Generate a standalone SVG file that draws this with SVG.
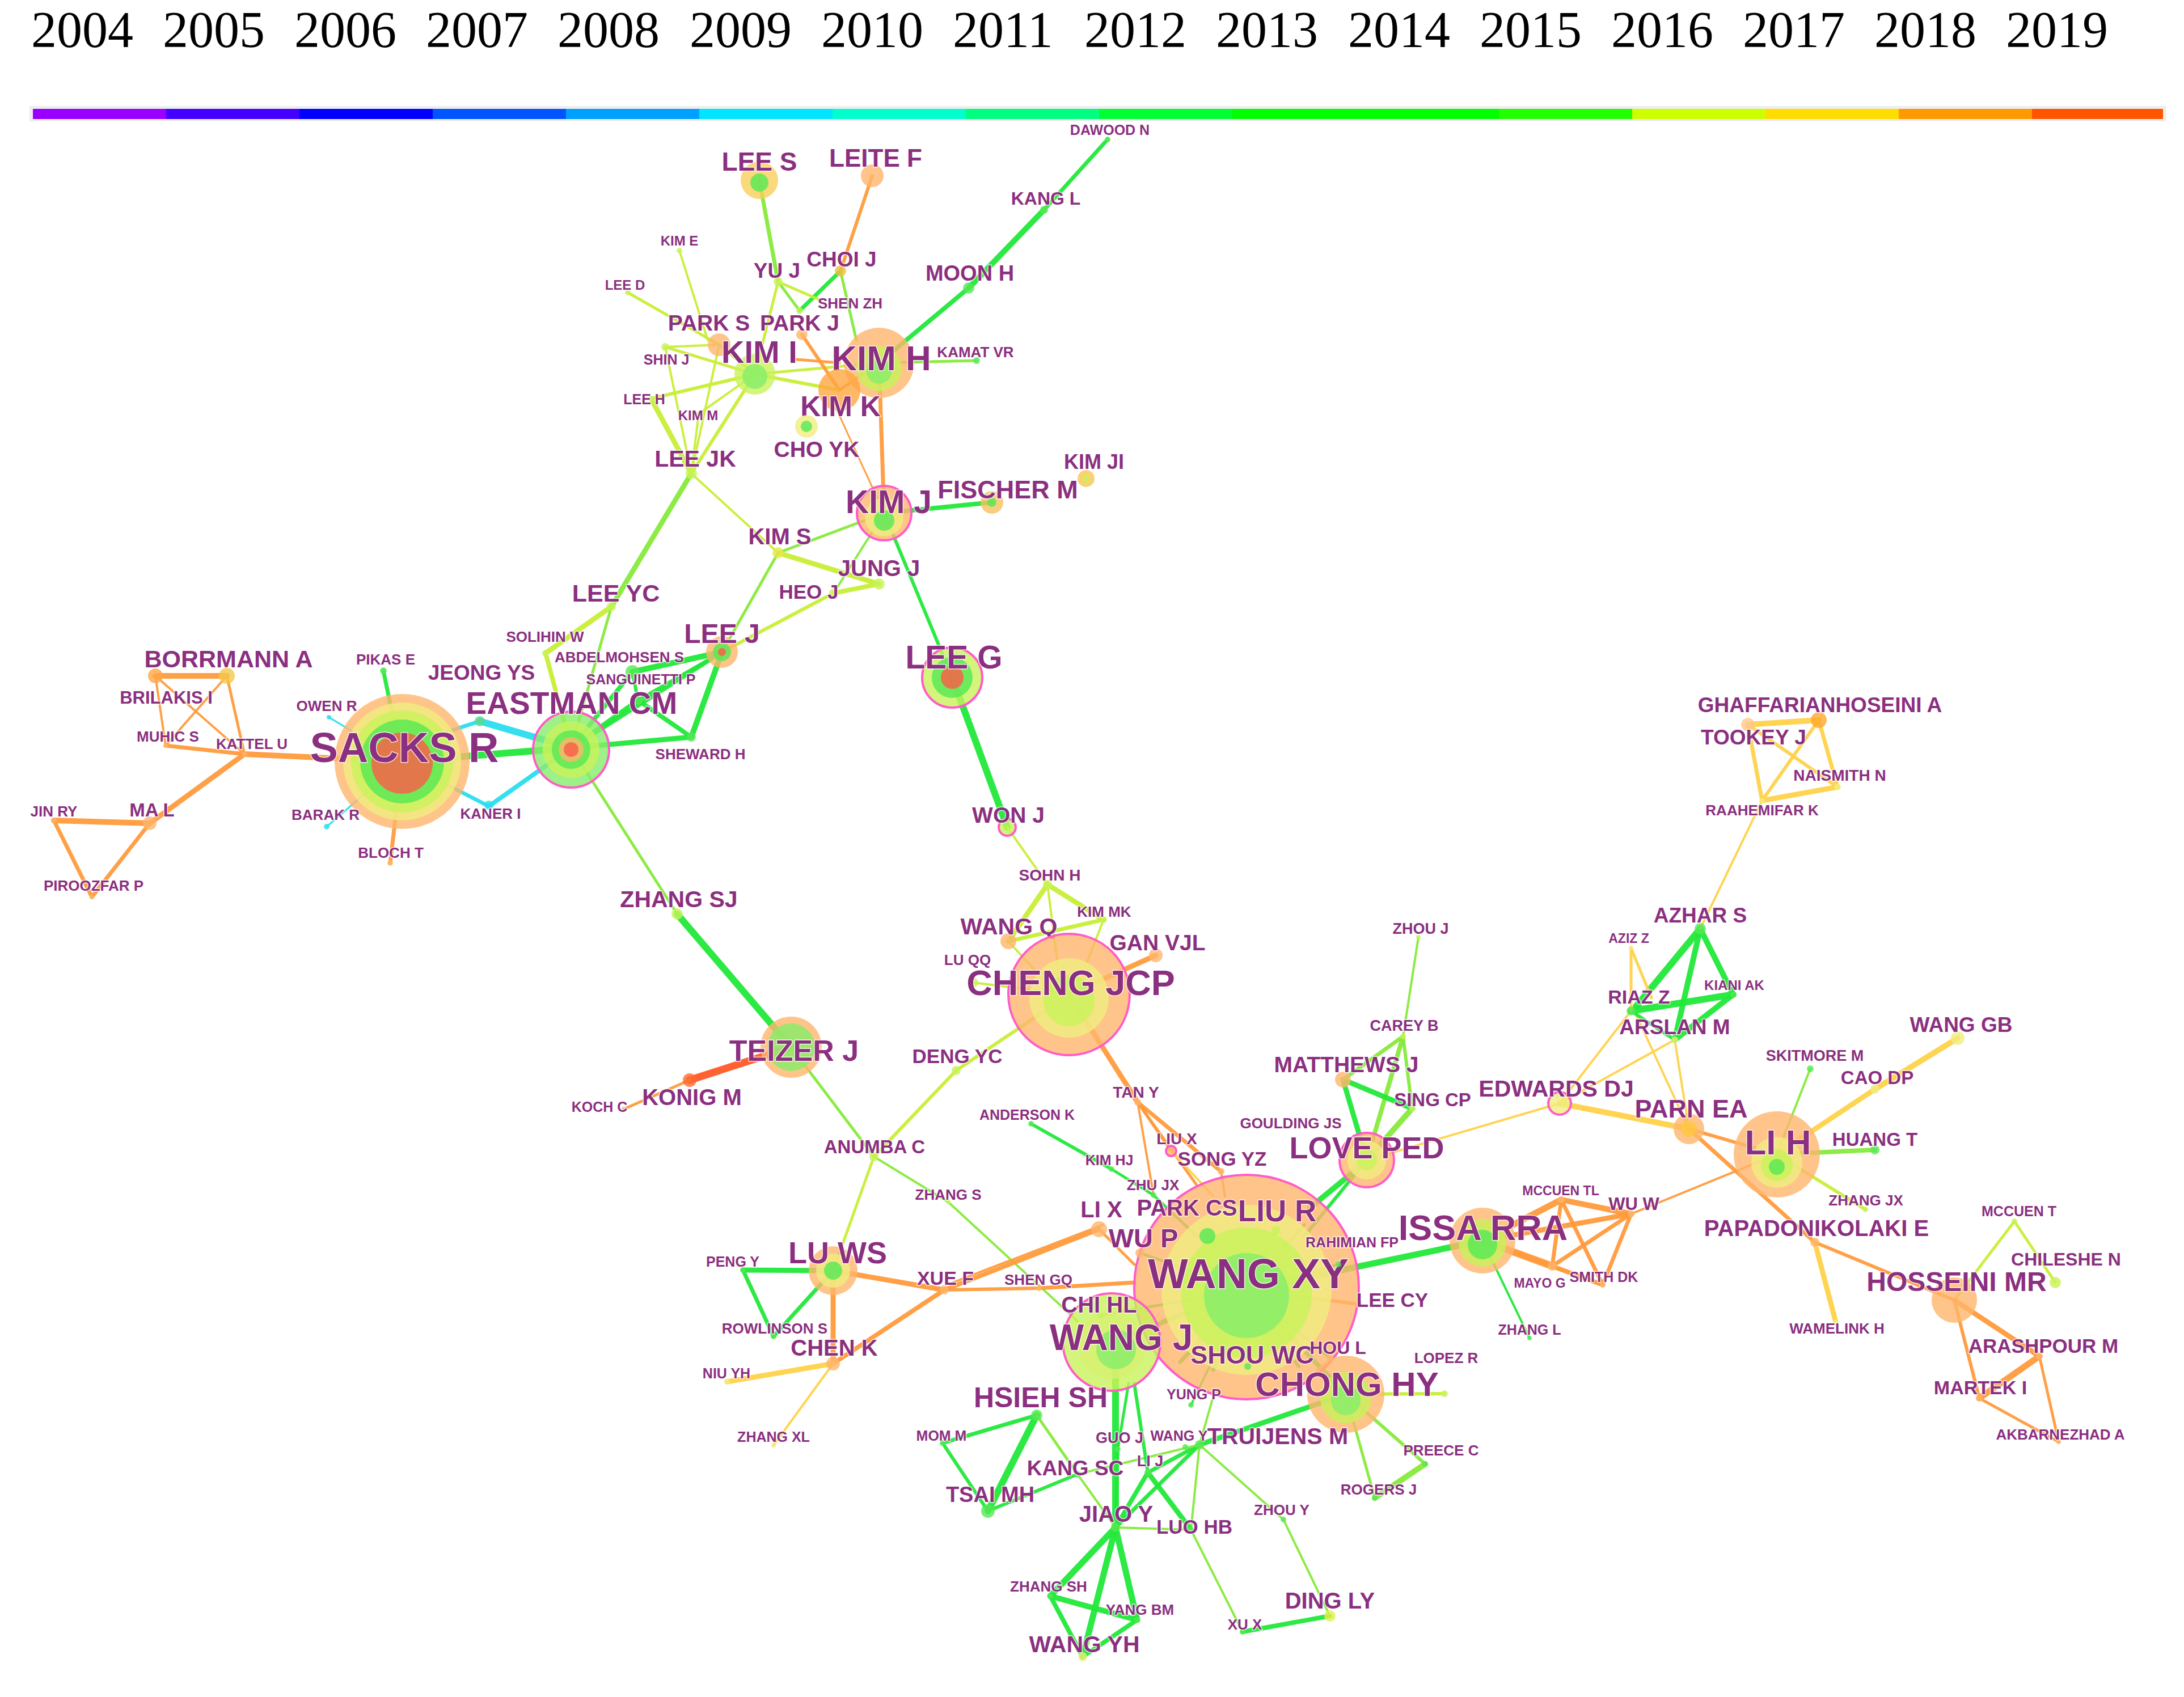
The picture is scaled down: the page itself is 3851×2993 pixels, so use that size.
<svg xmlns="http://www.w3.org/2000/svg" width="3851" height="2993" viewBox="0 0 3851 2993">
<style>
.yr{font-family:"Liberation Serif","Times New Roman",serif;font-size:90px;fill:#000}
.l{font-family:"Liberation Sans",Arial,sans-serif;font-weight:bold;fill:#8B2F80;text-anchor:middle;stroke:#FFFFFF;stroke-width:3;stroke-opacity:0.75;stroke-linejoin:round;paint-order:stroke}
.e{stroke-linecap:round;fill:none;stroke-opacity:0.95}
.cy{stroke:#2ADDEE}.g{stroke:#22E83A}.lg{stroke:#86EA3A}.yg{stroke:#C8EE36}.y{stroke:#FFD24A}.o{stroke:#FF9B3D}.r{stroke:#FF5A25}
.nd circle{fill-opacity:0.8}
.po{fill:#FFB56B}.py{fill:#F0EE80}.pyg{fill:#C8F25A}.pg{fill:#55E855}.pgl{fill:#86EE6A}.pr{fill:#FF5A48}.pc{fill:#2ADDEE}
.pk{fill:none;stroke:#FF5CC8;stroke-width:4}
</style>
<rect x="0" y="0" width="3851" height="2993" fill="#FFFFFF"/>
<g id="timeline">
<rect x="52" y="187" width="3768" height="27" fill="#EEEEEE"/>
<rect x="58" y="192" width="235" height="18" fill="#9900FF"/>
<rect x="293" y="192" width="235" height="18" fill="#4400FF"/>
<rect x="528" y="192" width="235" height="18" fill="#0000FF"/>
<rect x="763" y="192" width="235" height="18" fill="#0055FF"/>
<rect x="998" y="192" width="235" height="18" fill="#00A0FF"/>
<rect x="1233" y="192" width="235" height="18" fill="#00E5FF"/>
<rect x="1468" y="192" width="235" height="18" fill="#00FFCC"/>
<rect x="1703" y="192" width="235" height="18" fill="#00FF80"/>
<rect x="1938" y="192" width="235" height="18" fill="#00FF33"/>
<rect x="2173" y="192" width="235" height="18" fill="#00FF00"/>
<rect x="2408" y="192" width="235" height="18" fill="#00FF00"/>
<rect x="2643" y="192" width="235" height="18" fill="#22FF00"/>
<rect x="2878" y="192" width="235" height="18" fill="#CCFF00"/>
<rect x="3113" y="192" width="235" height="18" fill="#FFDD00"/>
<rect x="3348" y="192" width="235" height="18" fill="#FF9900"/>
<rect x="3583" y="192" width="231" height="18" fill="#FF5500"/>
<text class="yr" x="55" y="83">2004</text>
<text class="yr" x="287" y="83">2005</text>
<text class="yr" x="519" y="83">2006</text>
<text class="yr" x="751" y="83">2007</text>
<text class="yr" x="983" y="83">2008</text>
<text class="yr" x="1216" y="83">2009</text>
<text class="yr" x="1448" y="83">2010</text>
<text class="yr" x="1680" y="83">2011</text>
<text class="yr" x="1912" y="83">2012</text>
<text class="yr" x="2144" y="83">2013</text>
<text class="yr" x="2377" y="83">2014</text>
<text class="yr" x="2609" y="83">2015</text>
<text class="yr" x="2841" y="83">2016</text>
<text class="yr" x="3073" y="83">2017</text>
<text class="yr" x="3305" y="83">2018</text>
<text class="yr" x="3537" y="83">2019</text>
</g>
<g id="connectors">
<line class="e o" x1="274" y1="1192" x2="400" y2="1192" stroke-width="10"/>
<line class="e o" x1="274" y1="1192" x2="292" y2="1315" stroke-width="4"/>
<line class="e o" x1="274" y1="1192" x2="431" y2="1330" stroke-width="4"/>
<line class="e o" x1="400" y1="1192" x2="292" y2="1315" stroke-width="4"/>
<line class="e o" x1="400" y1="1192" x2="431" y2="1330" stroke-width="5"/>
<line class="e o" x1="292" y1="1315" x2="431" y2="1330" stroke-width="7"/>
<line class="e o" x1="431" y1="1330" x2="709" y2="1343" stroke-width="10"/>
<line class="e o" x1="431" y1="1330" x2="264" y2="1452" stroke-width="9"/>
<line class="e o" x1="264" y1="1452" x2="95" y2="1447" stroke-width="10"/>
<line class="e o" x1="95" y1="1447" x2="162" y2="1582" stroke-width="7"/>
<line class="e o" x1="264" y1="1452" x2="162" y2="1582" stroke-width="7"/>
<line class="e g" x1="676" y1="1183" x2="709" y2="1343" stroke-width="7"/>
<line class="e cy" x1="580" y1="1265" x2="709" y2="1343" stroke-width="3"/>
<line class="e cy" x1="576" y1="1458" x2="709" y2="1343" stroke-width="3"/>
<line class="e o" x1="688" y1="1522" x2="709" y2="1343" stroke-width="7"/>
<line class="e g" x1="709" y1="1343" x2="1007" y2="1319" stroke-width="12"/>
<line class="e cy" x1="760" y1="1300" x2="846" y2="1272" stroke-width="7"/>
<line class="e cy" x1="846" y1="1272" x2="1007" y2="1319" stroke-width="12"/>
<line class="e cy" x1="709" y1="1343" x2="862" y2="1422" stroke-width="7"/>
<line class="e cy" x1="862" y1="1422" x2="1007" y2="1319" stroke-width="8"/>
<line class="e g" x1="1007" y1="1319" x2="1115" y2="1185" stroke-width="8"/>
<line class="e g" x1="1007" y1="1319" x2="1125" y2="1235" stroke-width="8"/>
<line class="e g" x1="1007" y1="1319" x2="1219" y2="1300" stroke-width="9"/>
<line class="e g" x1="1007" y1="1319" x2="1273" y2="1150" stroke-width="8"/>
<line class="e g" x1="1273" y1="1150" x2="1219" y2="1300" stroke-width="10"/>
<line class="e g" x1="1273" y1="1150" x2="1115" y2="1185" stroke-width="10"/>
<line class="e g" x1="1115" y1="1185" x2="1125" y2="1235" stroke-width="6"/>
<line class="e g" x1="1125" y1="1235" x2="1219" y2="1300" stroke-width="8"/>
<line class="e g" x1="1273" y1="1150" x2="1125" y2="1235" stroke-width="6"/>
<line class="e yg" x1="962" y1="1152" x2="1007" y2="1319" stroke-width="8"/>
<line class="e yg" x1="962" y1="1152" x2="1078" y2="1070" stroke-width="9"/>
<line class="e lg" x1="1078" y1="1070" x2="1007" y2="1319" stroke-width="5"/>
<line class="e lg" x1="1078" y1="1070" x2="1219" y2="835" stroke-width="9"/>
<line class="e lg" x1="1007" y1="1319" x2="1194" y2="1612" stroke-width="5"/>
<line class="e g" x1="1194" y1="1612" x2="1395" y2="1847" stroke-width="12"/>
<line class="e r" x1="1395" y1="1847" x2="1216" y2="1905" stroke-width="13"/>
<line class="e o" x1="1216" y1="1905" x2="1100" y2="1956" stroke-width="5"/>
<line class="e lg" x1="1395" y1="1847" x2="1541" y2="2040" stroke-width="5"/>
<line class="e yg" x1="1541" y1="2040" x2="1686" y2="1888" stroke-width="6"/>
<line class="e yg" x1="1686" y1="1888" x2="1885" y2="1754" stroke-width="6"/>
<line class="e yg" x1="1541" y1="2040" x2="1469" y2="2241" stroke-width="5"/>
<line class="e lg" x1="1541" y1="2040" x2="1672" y2="2120" stroke-width="4"/>
<line class="e lg" x1="1672" y1="2120" x2="1900" y2="2330" stroke-width="4"/>
<line class="e g" x1="1953" y1="246" x2="1841" y2="370" stroke-width="7"/>
<line class="e g" x1="1841" y1="370" x2="1708" y2="508" stroke-width="10"/>
<line class="e g" x1="1708" y1="508" x2="1550" y2="640" stroke-width="8"/>
<line class="e lg" x1="1339" y1="318" x2="1372" y2="497" stroke-width="7"/>
<line class="e yg" x1="1372" y1="497" x2="1331" y2="660" stroke-width="5"/>
<line class="e lg" x1="1372" y1="497" x2="1410" y2="548" stroke-width="5"/>
<line class="e g" x1="1410" y1="548" x2="1482" y2="478" stroke-width="7"/>
<line class="e yg" x1="1372" y1="497" x2="1448" y2="530" stroke-width="5"/>
<line class="e lg" x1="1482" y1="478" x2="1510" y2="600" stroke-width="5"/>
<line class="e o" x1="1538" y1="310" x2="1482" y2="478" stroke-width="6"/>
<line class="e yg" x1="1198" y1="442" x2="1248" y2="600" stroke-width="4"/>
<line class="e yg" x1="1107" y1="516" x2="1268" y2="608" stroke-width="5"/>
<line class="e yg" x1="1268" y1="608" x2="1331" y2="660" stroke-width="5"/>
<line class="e yg" x1="1173" y1="612" x2="1331" y2="660" stroke-width="5"/>
<line class="e yg" x1="1173" y1="612" x2="1219" y2="835" stroke-width="4"/>
<line class="e yg" x1="1173" y1="612" x2="1268" y2="608" stroke-width="4"/>
<line class="e yg" x1="1148" y1="703" x2="1331" y2="660" stroke-width="6"/>
<line class="e yg" x1="1148" y1="703" x2="1219" y2="835" stroke-width="9"/>
<line class="e yg" x1="1232" y1="730" x2="1331" y2="660" stroke-width="4"/>
<line class="e yg" x1="1232" y1="730" x2="1219" y2="835" stroke-width="4"/>
<line class="e yg" x1="1219" y1="835" x2="1331" y2="660" stroke-width="6"/>
<line class="e yg" x1="1219" y1="835" x2="1268" y2="608" stroke-width="4"/>
<line class="e yg" x1="1331" y1="660" x2="1550" y2="640" stroke-width="5"/>
<line class="e o" x1="1405" y1="634" x2="1480" y2="640" stroke-width="5"/>
<line class="e o" x1="1414" y1="590" x2="1480" y2="688" stroke-width="6"/>
<line class="e yg" x1="1331" y1="660" x2="1480" y2="688" stroke-width="6"/>
<line class="e o" x1="1550" y1="640" x2="1480" y2="688" stroke-width="5"/>
<line class="e lg" x1="1550" y1="640" x2="1722" y2="636" stroke-width="5"/>
<line class="e o" x1="1550" y1="640" x2="1559" y2="905" stroke-width="7"/>
<line class="e o" x1="1465" y1="700" x2="1559" y2="905" stroke-width="3"/>
<line class="e yg" x1="1219" y1="835" x2="1372" y2="975" stroke-width="4"/>
<line class="e lg" x1="1372" y1="975" x2="1559" y2="905" stroke-width="5"/>
<line class="e yg" x1="1372" y1="975" x2="1550" y2="1030" stroke-width="9"/>
<line class="e lg" x1="1372" y1="975" x2="1273" y2="1150" stroke-width="5"/>
<line class="e yg" x1="1273" y1="1150" x2="1470" y2="1046" stroke-width="6"/>
<line class="e yg" x1="1470" y1="1046" x2="1550" y2="1030" stroke-width="8"/>
<line class="e lg" x1="1559" y1="905" x2="1470" y2="1046" stroke-width="4"/>
<line class="e g" x1="1559" y1="905" x2="1749" y2="886" stroke-width="8"/>
<line class="e g" x1="1559" y1="905" x2="1679" y2="1195" stroke-width="6"/>
<line class="e g" x1="1679" y1="1195" x2="1776" y2="1459" stroke-width="12"/>
<line class="e yg" x1="1776" y1="1459" x2="1847" y2="1560" stroke-width="4"/>
<line class="e yg" x1="1847" y1="1560" x2="1778" y2="1660" stroke-width="9"/>
<line class="e yg" x1="1847" y1="1560" x2="1946" y2="1622" stroke-width="9"/>
<line class="e yg" x1="1847" y1="1560" x2="1870" y2="1740" stroke-width="4"/>
<line class="e yg" x1="1778" y1="1660" x2="1946" y2="1622" stroke-width="7"/>
<line class="e yg" x1="1946" y1="1622" x2="1900" y2="1740" stroke-width="4"/>
<line class="e yg" x1="1778" y1="1660" x2="1860" y2="1750" stroke-width="4"/>
<line class="e o" x1="1885" y1="1754" x2="2038" y2="1685" stroke-width="9"/>
<line class="e yg" x1="1885" y1="1754" x2="1717" y2="1733" stroke-width="4"/>
<line class="e o" x1="1885" y1="1754" x2="2006" y2="1944" stroke-width="9"/>
<line class="e o" x1="2006" y1="1944" x2="2065" y2="2030" stroke-width="5"/>
<line class="e o" x1="2006" y1="1944" x2="2034" y2="2108" stroke-width="4"/>
<line class="e o" x1="2006" y1="1944" x2="2153" y2="2066" stroke-width="7"/>
<line class="e o" x1="2006" y1="1944" x2="2110" y2="2090" stroke-width="5"/>
<line class="e y" x1="2065" y1="2030" x2="2140" y2="2110" stroke-width="4"/>
<line class="e o" x1="2153" y1="2066" x2="2160" y2="2110" stroke-width="4"/>
<line class="e g" x1="1818" y1="1982" x2="1960" y2="2062" stroke-width="6"/>
<line class="e g" x1="1960" y1="2062" x2="2034" y2="2108" stroke-width="5"/>
<line class="e g" x1="2034" y1="2108" x2="2110" y2="2180" stroke-width="5"/>
<line class="e g" x1="2198" y1="2275" x2="2129" y2="2180" stroke-width="9"/>
<line class="e g" x1="2198" y1="2275" x2="2250" y2="2170" stroke-width="6"/>
<line class="e g" x1="2198" y1="2275" x2="2010" y2="2210" stroke-width="5"/>
<line class="e g" x1="2198" y1="2275" x2="2200" y2="2410" stroke-width="6"/>
<line class="e g" x1="2198" y1="2275" x2="2345" y2="2395" stroke-width="5"/>
<line class="e o" x1="2198" y1="2275" x2="2395" y2="2300" stroke-width="6"/>
<line class="e g" x1="2198" y1="2275" x2="2360" y2="2230" stroke-width="4"/>
<line class="e g" x1="2198" y1="2275" x2="2373" y2="2459" stroke-width="8"/>
<line class="e g" x1="2198" y1="2275" x2="1960" y2="2367" stroke-width="8"/>
<line class="e g" x1="2198" y1="2275" x2="1940" y2="2320" stroke-width="5"/>
<line class="e g" x1="2198" y1="2275" x2="2081" y2="2402" stroke-width="7"/>
<line class="e g" x1="2198" y1="2275" x2="2139" y2="2416" stroke-width="7"/>
<line class="e g" x1="2198" y1="2275" x2="2244" y2="2388" stroke-width="7"/>
<line class="e g" x1="2198" y1="2275" x2="2290" y2="2410" stroke-width="6"/>
<line class="e g" x1="2198" y1="2275" x2="2050" y2="2330" stroke-width="6"/>
<line class="e g" x1="2198" y1="2275" x2="2300" y2="2160" stroke-width="5"/>
<line class="e g" x1="2198" y1="2275" x2="2100" y2="2478" stroke-width="4"/>
<line class="e g" x1="2198" y1="2275" x2="2614" y2="2188" stroke-width="11"/>
<line class="e g" x1="2310" y1="2130" x2="2395" y2="2060" stroke-width="10"/>
<line class="e g" x1="2300" y1="2180" x2="2410" y2="2046" stroke-width="6"/>
<line class="e g" x1="2410" y1="2046" x2="2368" y2="1904" stroke-width="9"/>
<line class="e lg" x1="2410" y1="2046" x2="2474" y2="1828" stroke-width="8"/>
<line class="e lg" x1="2410" y1="2046" x2="2490" y2="1955" stroke-width="10"/>
<line class="e g" x1="2368" y1="1904" x2="2490" y2="1955" stroke-width="9"/>
<line class="e lg" x1="2368" y1="1904" x2="2474" y2="1828" stroke-width="7"/>
<line class="e lg" x1="2474" y1="1828" x2="2490" y2="1955" stroke-width="6"/>
<line class="e lg" x1="2474" y1="1828" x2="2501" y2="1653" stroke-width="4"/>
<line class="e y" x1="2410" y1="2046" x2="2750" y2="1946" stroke-width="4"/>
<line class="e y" x1="2750" y1="1946" x2="2978" y2="1991" stroke-width="10"/>
<line class="e y" x1="2750" y1="1946" x2="2953" y2="1834" stroke-width="4"/>
<line class="e y" x1="2750" y1="1946" x2="2876" y2="1783" stroke-width="4"/>
<line class="e y" x1="2978" y1="1991" x2="2953" y2="1834" stroke-width="4"/>
<line class="e y" x1="2978" y1="1991" x2="2885" y2="1790" stroke-width="4"/>
<line class="e o" x1="2978" y1="1991" x2="3133" y2="2036" stroke-width="6"/>
<line class="e o" x1="2978" y1="1991" x2="3200" y2="2191" stroke-width="7"/>
<line class="e o" x1="3133" y1="2036" x2="2876" y2="2141" stroke-width="4"/>
<line class="e y" x1="3133" y1="2036" x2="3306" y2="1921" stroke-width="9"/>
<line class="e y" x1="3306" y1="1921" x2="3452" y2="1831" stroke-width="10"/>
<line class="e lg" x1="3133" y1="2036" x2="3192" y2="1885" stroke-width="4"/>
<line class="e lg" x1="3133" y1="2036" x2="3306" y2="2028" stroke-width="8"/>
<line class="e yg" x1="3133" y1="2036" x2="3289" y2="2133" stroke-width="6"/>
<line class="e o" x1="2614" y1="2188" x2="2753" y2="2116" stroke-width="11"/>
<line class="e o" x1="2614" y1="2188" x2="2876" y2="2141" stroke-width="9"/>
<line class="e o" x1="2614" y1="2188" x2="2737" y2="2233" stroke-width="13"/>
<line class="e o" x1="2614" y1="2188" x2="2826" y2="2266" stroke-width="8"/>
<line class="e o" x1="2753" y1="2116" x2="2876" y2="2141" stroke-width="10"/>
<line class="e o" x1="2753" y1="2116" x2="2737" y2="2233" stroke-width="7"/>
<line class="e o" x1="2753" y1="2116" x2="2826" y2="2266" stroke-width="7"/>
<line class="e o" x1="2876" y1="2141" x2="2737" y2="2233" stroke-width="7"/>
<line class="e o" x1="2876" y1="2141" x2="2826" y2="2266" stroke-width="7"/>
<line class="e o" x1="2737" y1="2233" x2="2826" y2="2266" stroke-width="7"/>
<line class="e g" x1="2614" y1="2188" x2="2697" y2="2360" stroke-width="4"/>
<line class="e y" x1="3200" y1="2191" x2="3237" y2="2332" stroke-width="9"/>
<line class="e o" x1="3200" y1="2191" x2="3446" y2="2293" stroke-width="6"/>
<line class="e yg" x1="3446" y1="2293" x2="3552" y2="2154" stroke-width="5"/>
<line class="e yg" x1="3552" y1="2154" x2="3624" y2="2262" stroke-width="5"/>
<line class="e o" x1="3446" y1="2293" x2="3596" y2="2392" stroke-width="9"/>
<line class="e o" x1="3446" y1="2293" x2="3490" y2="2466" stroke-width="6"/>
<line class="e o" x1="3596" y1="2392" x2="3490" y2="2466" stroke-width="11"/>
<line class="e o" x1="3596" y1="2392" x2="3630" y2="2543" stroke-width="5"/>
<line class="e o" x1="3490" y1="2466" x2="3630" y2="2543" stroke-width="5"/>
<line class="e g" x1="2998" y1="1638" x2="2885" y2="1775" stroke-width="12"/>
<line class="e g" x1="2998" y1="1638" x2="2953" y2="1834" stroke-width="10"/>
<line class="e g" x1="2998" y1="1638" x2="3056" y2="1754" stroke-width="10"/>
<line class="e g" x1="2876" y1="1783" x2="3056" y2="1754" stroke-width="12"/>
<line class="e g" x1="2953" y1="1834" x2="3056" y2="1754" stroke-width="10"/>
<line class="e g" x1="2876" y1="1783" x2="2953" y2="1834" stroke-width="6"/>
<line class="e y" x1="2876" y1="1672" x2="2876" y2="1783" stroke-width="5"/>
<line class="e y" x1="2876" y1="1672" x2="2912" y2="1760" stroke-width="5"/>
<line class="e y" x1="2998" y1="1638" x2="3107" y2="1412" stroke-width="4"/>
<line class="e y" x1="3107" y1="1412" x2="3082" y2="1278" stroke-width="7"/>
<line class="e y" x1="3107" y1="1412" x2="3240" y2="1388" stroke-width="9"/>
<line class="e y" x1="3107" y1="1412" x2="3207" y2="1270" stroke-width="6"/>
<line class="e y" x1="3082" y1="1278" x2="3207" y2="1270" stroke-width="10"/>
<line class="e y" x1="3207" y1="1270" x2="3240" y2="1388" stroke-width="7"/>
<line class="e y" x1="3082" y1="1278" x2="3240" y2="1388" stroke-width="6"/>
<line class="e yg" x1="2373" y1="2459" x2="2547" y2="2458" stroke-width="6"/>
<line class="e lg" x1="2373" y1="2459" x2="2513" y2="2582" stroke-width="6"/>
<line class="e lg" x1="2513" y1="2582" x2="2424" y2="2642" stroke-width="10"/>
<line class="e lg" x1="2373" y1="2459" x2="2424" y2="2642" stroke-width="5"/>
<line class="e g" x1="2373" y1="2459" x2="2115" y2="2548" stroke-width="9"/>
<line class="e lg" x1="2115" y1="2548" x2="2139" y2="2464" stroke-width="4"/>
<line class="e lg" x1="2115" y1="2548" x2="2263" y2="2680" stroke-width="4"/>
<line class="e lg" x1="2263" y1="2680" x2="2345" y2="2850" stroke-width="4"/>
<line class="e g" x1="2115" y1="2548" x2="1967" y2="2694" stroke-width="7"/>
<line class="e g" x1="2115" y1="2548" x2="2024" y2="2597" stroke-width="7"/>
<line class="e lg" x1="2115" y1="2548" x2="2100" y2="2698" stroke-width="4"/>
<line class="e lg" x1="2115" y1="2548" x2="1900" y2="2600" stroke-width="4"/>
<line class="e lg" x1="2100" y1="2698" x2="2191" y2="2878" stroke-width="4"/>
<line class="e g" x1="2191" y1="2878" x2="2345" y2="2850" stroke-width="8"/>
<line class="e lg" x1="2100" y1="2698" x2="1967" y2="2694" stroke-width="4"/>
<line class="e g" x1="2024" y1="2597" x2="2100" y2="2698" stroke-width="9"/>
<line class="e g" x1="1967" y1="2694" x2="1967" y2="2380" stroke-width="12"/>
<line class="e g" x1="1967" y1="2694" x2="2024" y2="2597" stroke-width="8"/>
<line class="e g" x1="1967" y1="2694" x2="1971" y2="2556" stroke-width="6"/>
<line class="e g" x1="1971" y1="2556" x2="1990" y2="2440" stroke-width="5"/>
<line class="e g" x1="2024" y1="2597" x2="2000" y2="2440" stroke-width="6"/>
<line class="e g" x1="1900" y1="2600" x2="1742" y2="2665" stroke-width="6"/>
<line class="e lg" x1="1900" y1="2600" x2="1967" y2="2694" stroke-width="4"/>
<line class="e g" x1="1828" y1="2496" x2="1742" y2="2665" stroke-width="12"/>
<line class="e g" x1="1828" y1="2496" x2="1662" y2="2545" stroke-width="7"/>
<line class="e g" x1="1662" y1="2545" x2="1742" y2="2665" stroke-width="6"/>
<line class="e lg" x1="1828" y1="2496" x2="1900" y2="2600" stroke-width="5"/>
<line class="e g" x1="1967" y1="2694" x2="1852" y2="2815" stroke-width="11"/>
<line class="e g" x1="1967" y1="2694" x2="1909" y2="2922" stroke-width="11"/>
<line class="e g" x1="1967" y1="2694" x2="2005" y2="2857" stroke-width="11"/>
<line class="e g" x1="1852" y1="2815" x2="1909" y2="2922" stroke-width="8"/>
<line class="e g" x1="1852" y1="2815" x2="2005" y2="2857" stroke-width="10"/>
<line class="e g" x1="2005" y1="2857" x2="1909" y2="2922" stroke-width="8"/>
<line class="e g" x1="1469" y1="2241" x2="1310" y2="2240" stroke-width="9"/>
<line class="e g" x1="1310" y1="2240" x2="1364" y2="2357" stroke-width="7"/>
<line class="e g" x1="1364" y1="2357" x2="1469" y2="2241" stroke-width="7"/>
<line class="e o" x1="1469" y1="2241" x2="1469" y2="2405" stroke-width="9"/>
<line class="e o" x1="1469" y1="2241" x2="1665" y2="2275" stroke-width="9"/>
<line class="e o" x1="1469" y1="2405" x2="1665" y2="2275" stroke-width="8"/>
<line class="e y" x1="1469" y1="2405" x2="1282" y2="2437" stroke-width="9"/>
<line class="e y" x1="1469" y1="2405" x2="1364" y2="2549" stroke-width="4"/>
<line class="e o" x1="1665" y1="2275" x2="1938" y2="2168" stroke-width="8"/>
<line class="e o" x1="1680" y1="2262" x2="1945" y2="2160" stroke-width="4"/>
<line class="e o" x1="1665" y1="2275" x2="1832" y2="2272" stroke-width="6"/>
<line class="e o" x1="1832" y1="2272" x2="2000" y2="2262" stroke-width="7"/>
<line class="e o" x1="1938" y1="2168" x2="2000" y2="2230" stroke-width="5"/>
</g>
<g id="n-dawood-n" class="nd"><circle cx="1953" cy="246" r="5" class="pg"/><text class="l" x="1957" y="238" font-size="25">DAWOOD N</text></g>
<g id="n-kang-l" class="nd"><circle cx="1841" cy="370" r="7" class="pg"/><text class="l" x="1844" y="361" font-size="32">KANG L</text></g>
<g id="n-lee-s" class="nd"><circle cx="1339" cy="318" r="33" fill="#F7CF5A"/><circle cx="1339" cy="322" r="16" class="pg"/><text class="l" x="1339" y="301" font-size="46">LEE S</text></g>
<g id="n-leite-f" class="nd"><circle cx="1538" cy="310" r="20" class="po"/><text class="l" x="1544" y="294" font-size="44">LEITE F</text></g>
<g id="n-kim-e" class="nd"><circle cx="1198" cy="442" r="5" class="pyg"/><text class="l" x="1198" y="433" font-size="24">KIM E</text></g>
<g id="n-lee-d" class="nd"><circle cx="1107" cy="516" r="5" class="pyg"/><text class="l" x="1102" y="511" font-size="24">LEE D</text></g>
<g id="n-yu-j" class="nd"><circle cx="1372" cy="497" r="8" class="pyg"/><text class="l" x="1370" y="490" font-size="37">YU J</text></g>
<g id="n-choi-j" class="nd"><circle cx="1482" cy="478" r="10" fill="#E8C040"/><text class="l" x="1484" y="470" font-size="37">CHOI J</text></g>
<g id="n-shen-zh" class="nd"><circle cx="1410" cy="548" r="6" class="pyg"/><text class="l" x="1499" y="544" font-size="26">SHEN ZH</text></g>
<g id="n-moon-h" class="nd"><circle cx="1708" cy="508" r="10" class="pg"/><text class="l" x="1710" y="495" font-size="38">MOON H</text></g>
<g id="n-park-s" class="nd"><circle cx="1268" cy="608" r="20" class="po"/><text class="l" x="1250" y="583" font-size="39">PARK S</text></g>
<g id="n-park-j" class="nd"><circle cx="1414" cy="590" r="10" class="po"/><text class="l" x="1410" y="583" font-size="39">PARK J</text></g>
<g id="n-kim-i" class="nd"><circle cx="1331" cy="660" r="36" class="pyg"/><circle cx="1331" cy="664" r="22" class="pgl"/><text class="l" x="1339" y="640" font-size="56">KIM I</text></g>
<g id="n-kim-h" class="nd"><circle cx="1550" cy="640" r="62" class="po"/><circle cx="1550" cy="650" r="40" class="pyg"/><circle cx="1550" cy="655" r="22" class="pgl"/><text class="l" x="1554" y="653" font-size="62">KIM H</text></g>
<g id="n-kamat-vr" class="nd"><circle cx="1722" cy="636" r="6" class="pg"/><text class="l" x="1720" y="630" font-size="26">KAMAT VR</text></g>
<g id="n-shin-j" class="nd"><circle cx="1173" cy="612" r="7" class="pyg"/><text class="l" x="1175" y="643" font-size="25">SHIN J</text></g>
<g id="n-lee-h" class="nd"><circle cx="1148" cy="703" r="5" class="pyg"/><text class="l" x="1136" y="713" font-size="25">LEE H</text></g>
<g id="n-kim-m" class="nd"><circle cx="1232" cy="730" r="5" class="pyg"/><text class="l" x="1231" y="741" font-size="24">KIM M</text></g>
<g id="n-kim-k" class="nd"><circle cx="1480" cy="688" r="37" fill="#FFA640"/><text class="l" x="1482" y="734" font-size="50">KIM K</text></g>
<g id="n-cho-yk" class="nd"><circle cx="1422" cy="752" r="20" class="py"/><circle cx="1422" cy="752" r="10" class="pg"/><text class="l" x="1440" y="806" font-size="39">CHO YK</text></g>
<g id="n-lee-jk" class="nd"><circle cx="1219" cy="835" r="10" class="pyg"/><text class="l" x="1226" y="823" font-size="41">LEE JK</text></g>
<g id="n-kim-ji" class="nd"><circle cx="1915" cy="844" r="15" fill="#F5C850"/><circle cx="1915" cy="844" r="6" class="pyg"/><text class="l" x="1929" y="827" font-size="36">KIM JI</text></g>
<g id="n-fischer-m" class="nd"><circle cx="1749" cy="886" r="20" fill="#F8C060"/><circle cx="1749" cy="886" r="8" class="pg"/><text class="l" x="1777" y="879" font-size="45">FISCHER M</text></g>
<g id="n-kim-j" class="nd"><circle cx="1559" cy="905" r="48" class="po"/><circle cx="1559" cy="912" r="34" class="py"/><circle cx="1559" cy="918" r="18" class="pg"/><circle cx="1559" cy="905" r="48" class="pk"/><text class="l" x="1567" y="905" font-size="57">KIM J</text></g>
<g id="n-kim-s" class="nd"><circle cx="1372" cy="975" r="10" fill="#E6E84A"/><text class="l" x="1375" y="960" font-size="40">KIM S</text></g>
<g id="n-jung-j" class="nd"><circle cx="1550" cy="1030" r="10" class="pyg"/><text class="l" x="1550" y="1016" font-size="40">JUNG J</text></g>
<g id="n-heo-j" class="nd"><circle cx="1470" cy="1046" r="8" class="pyg"/><text class="l" x="1426" y="1056" font-size="35">HEO J</text></g>
<g id="n-lee-yc" class="nd"><circle cx="1078" cy="1070" r="8" class="pyg"/><text class="l" x="1086" y="1061" font-size="43">LEE YC</text></g>
<g id="n-lee-j" class="nd"><circle cx="1273" cy="1150" r="28" class="po"/><circle cx="1273" cy="1150" r="16" class="pg"/><circle cx="1273" cy="1150" r="7" class="pr"/><text class="l" x="1273" y="1134" font-size="48">LEE J</text></g>
<g id="n-lee-g" class="nd"><circle cx="1679" cy="1195" r="53" class="pyg"/><circle cx="1679" cy="1195" r="36" class="pg"/><circle cx="1679" cy="1195" r="20" class="pr"/><circle cx="1679" cy="1195" r="53" class="pk"/><text class="l" x="1682" y="1179" font-size="57">LEE G</text></g>
<g id="n-solihin-w" class="nd"><circle cx="962" cy="1152" r="6" class="pyg"/><text class="l" x="961" y="1132" font-size="26">SOLIHIN W</text></g>
<g id="n-abdelmohsen-s" class="nd"><circle cx="1115" cy="1185" r="12" class="pg"/><text class="l" x="1092" y="1168" font-size="26">ABDELMOHSEN S</text></g>
<g id="n-sanguinetti-p" class="nd"><circle cx="1125" cy="1235" r="8" class="pg"/><text class="l" x="1130" y="1207" font-size="25">SANGUINETTI P</text></g>
<g id="n-jeong-ys" class="nd"><circle cx="846" cy="1272" r="9" fill="#5BD98B"/><text class="l" x="849" y="1199" font-size="37">JEONG YS</text></g>
<g id="n-eastman-cm" class="nd"><circle cx="1007" cy="1322" r="67" class="pgl"/><circle cx="1007" cy="1322" r="50" class="pyg"/><circle cx="1007" cy="1322" r="34" class="pg"/><circle cx="1007" cy="1322" r="22" class="po"/><circle cx="1007" cy="1322" r="13" class="pr"/><circle cx="1007" cy="1322" r="67" class="pk"/><text class="l" x="1008" y="1259" font-size="55">EASTMAN CM</text></g>
<g id="n-sheward-h" class="nd"><circle cx="1219" cy="1300" r="8" class="pg"/><text class="l" x="1235" y="1339" font-size="26">SHEWARD H</text></g>
<g id="n-sacks-r" class="nd"><circle cx="709" cy="1343" r="119" class="po"/><circle cx="709" cy="1343" r="104" class="py"/><circle cx="709" cy="1343" r="90" class="pyg"/><circle cx="709" cy="1343" r="74" class="pg"/><circle cx="709" cy="1346" r="54" class="pr"/><text class="l" x="713" y="1344" font-size="74">SACKS R</text></g>
<g id="n-pikas-e" class="nd"><circle cx="676" cy="1183" r="6" class="pg"/><text class="l" x="680" y="1172" font-size="26">PIKAS E</text></g>
<g id="n-owen-r" class="nd"><circle cx="580" cy="1265" r="4" class="pc"/><text class="l" x="576" y="1254" font-size="26">OWEN R</text></g>
<g id="n-barak-r" class="nd"><circle cx="576" cy="1458" r="5" class="pc"/><text class="l" x="574" y="1446" font-size="26">BARAK R</text></g>
<g id="n-kaner-i" class="nd"><circle cx="862" cy="1420" r="8" class="pc"/><text class="l" x="865" y="1444" font-size="26">KANER I</text></g>
<g id="n-bloch-t" class="nd"><circle cx="688" cy="1522" r="5" class="po"/><text class="l" x="689" y="1513" font-size="26">BLOCH T</text></g>
<g id="n-borrmann-a" class="nd"><circle cx="400" cy="1192" r="14" fill="#F4C84A"/><text class="l" x="403" y="1177" font-size="43">BORRMANN A</text></g>
<g id="n-brilakis-i" class="nd"><circle cx="274" cy="1192" r="13" fill="#FFA645"/><text class="l" x="293" y="1241" font-size="31">BRILAKIS I</text></g>
<g id="n-muhic-s" class="nd"><circle cx="292" cy="1315" r="4" class="po"/><text class="l" x="296" y="1308" font-size="26">MUHIC S</text></g>
<g id="n-kattel-u" class="nd"><circle cx="431" cy="1330" r="5" class="po"/><text class="l" x="444" y="1321" font-size="26">KATTEL U</text></g>
<g id="n-ma-l" class="nd"><circle cx="264" cy="1452" r="12" class="po"/><text class="l" x="268" y="1440" font-size="33">MA L</text></g>
<g id="n-jin-ry" class="nd"><circle cx="95" cy="1447" r="5" class="po"/><text class="l" x="95" y="1440" font-size="26">JIN RY</text></g>
<g id="n-piroozfar-p" class="nd"><circle cx="162" cy="1582" r="4" class="po"/><text class="l" x="165" y="1571" font-size="26">PIROOZFAR P</text></g>
<g id="n-zhang-sj" class="nd"><circle cx="1194" cy="1612" r="10" class="pyg"/><text class="l" x="1197" y="1600" font-size="41">ZHANG SJ</text></g>
<g id="n-teizer-j" class="nd"><circle cx="1395" cy="1847" r="54" class="po"/><circle cx="1395" cy="1847" r="42" class="pgl"/><text class="l" x="1400" y="1871" font-size="52">TEIZER J</text></g>
<g id="n-konig-m" class="nd"><circle cx="1216" cy="1905" r="12" fill="#FF6A30"/><text class="l" x="1220" y="1949" font-size="40">KONIG M</text></g>
<g id="n-koch-c" class="nd"><circle cx="1100" cy="1956" r="4" class="po"/><text class="l" x="1057" y="1961" font-size="25">KOCH C</text></g>
<g id="n-anumba-c" class="nd"><circle cx="1541" cy="2040" r="8" class="pyg"/><text class="l" x="1542" y="2034" font-size="33">ANUMBA C</text></g>
<g id="n-deng-yc" class="nd"><circle cx="1686" cy="1888" r="8" class="pyg"/><text class="l" x="1688" y="1875" font-size="35">DENG YC</text></g>
<g id="n-won-j" class="nd"><circle cx="1776" cy="1459" r="15" class="pyg"/><circle cx="1776" cy="1459" r="15" class="pk"/><text class="l" x="1778" y="1451" font-size="39">WON J</text></g>
<g id="n-sohn-h" class="nd"><circle cx="1847" cy="1560" r="8" class="pyg"/><text class="l" x="1851" y="1553" font-size="28">SOHN H</text></g>
<g id="n-kim-mk" class="nd"><circle cx="1946" cy="1622" r="6" class="pyg"/><text class="l" x="1947" y="1617" font-size="26">KIM MK</text></g>
<g id="n-wang-q" class="nd"><circle cx="1778" cy="1660" r="14" class="po"/><text class="l" x="1779" y="1648" font-size="41">WANG Q</text></g>
<g id="n-gan-vjl" class="nd"><circle cx="2038" cy="1685" r="12" class="po"/><text class="l" x="2041" y="1676" font-size="39">GAN VJL</text></g>
<g id="n-lu-qq" class="nd"><circle cx="1717" cy="1733" r="8" class="pyg"/><text class="l" x="1706" y="1702" font-size="26">LU QQ</text></g>
<g id="n-cheng-jcp" class="nd"><circle cx="1885" cy="1754" r="107" class="po"/><circle cx="1885" cy="1760" r="70" class="py"/><circle cx="1885" cy="1765" r="45" class="pyg"/><circle cx="1885" cy="1754" r="107" class="pk"/><text class="l" x="1888" y="1755" font-size="63">CHENG JCP</text></g>
<g id="n-tan-y" class="nd"><circle cx="2006" cy="1944" r="6" class="po"/><text class="l" x="2003" y="1936" font-size="28">TAN Y</text></g>
<g id="n-anderson-k" class="nd"><circle cx="1818" cy="1982" r="5" class="pg"/><text class="l" x="1811" y="1975" font-size="25">ANDERSON K</text></g>
<g id="n-kim-hj" class="nd"><circle cx="1960" cy="2062" r="5" class="pg"/><text class="l" x="1956" y="2055" font-size="25">KIM HJ</text></g>
<g id="n-liu-x" class="nd"><circle cx="2065" cy="2030" r="9" class="po"/><circle cx="2065" cy="2030" r="9" class="pk"/><text class="l" x="2075" y="2018" font-size="28">LIU X</text></g>
<g id="n-song-yz" class="nd"><circle cx="2153" cy="2066" r="6" class="po"/><text class="l" x="2155" y="2056" font-size="35">SONG YZ</text></g>
<g id="n-zhu-jx" class="nd"><circle cx="2034" cy="2108" r="5" class="pg"/><text class="l" x="2033" y="2099" font-size="26">ZHU JX</text></g>
<g id="n-zhang-s" class="nd"><circle cx="1672" cy="2120" r="4" class="pyg"/><text class="l" x="1672" y="2116" font-size="26">ZHANG S</text></g>
<g id="n-wang-xy" class="nd"><circle cx="2198" cy="2270" r="198" class="po"/><circle cx="2198" cy="2275" r="150" class="py"/><circle cx="2198" cy="2280" r="115" class="pyg"/><circle cx="2198" cy="2285" r="75" class="pgl"/><circle cx="2198" cy="2270" r="198" class="pk"/><text class="l" x="2201" y="2272" font-size="75">WANG XY</text></g>
<g id="n-li-x" class="nd"><circle cx="1938" cy="2168" r="14" class="po"/><text class="l" x="1942" y="2147" font-size="40">LI X</text></g>
<g id="n-park-cs" class="nd"><circle cx="2129" cy="2180" r="14" class="pg"/><text class="l" x="2093" y="2144" font-size="40">PARK CS</text></g>
<g id="n-liu-r" class="nd"><circle cx="2250" cy="2170" r="8" class="pyg"/><text class="l" x="2252" y="2154" font-size="53">LIU R</text></g>
<g id="n-wu-p" class="nd"><circle cx="2010" cy="2210" r="8" class="po"/><text class="l" x="2016" y="2200" font-size="47">WU P</text></g>
<g id="n-rahimian-fp" class="nd"><circle cx="2360" cy="2230" r="5" class="pg"/><text class="l" x="2384" y="2200" font-size="25">RAHIMIAN FP</text></g>
<g id="n-lee-cy" class="nd"><circle cx="2395" cy="2300" r="6" class="po"/><text class="l" x="2455" y="2305" font-size="35">LEE CY</text></g>
<g id="n-wang-j" class="nd"><circle cx="1960" cy="2367" r="86" class="pyg"/><circle cx="1960" cy="2372" r="60" fill="#D8F070"/><circle cx="1968" cy="2380" r="35" class="pgl"/><circle cx="1960" cy="2367" r="86" class="pk"/><text class="l" x="1977" y="2381" font-size="64">WANG J</text></g>
<g id="n-chi-hl" class="nd"><circle cx="1940" cy="2320" r="6" class="pyg"/><text class="l" x="1938" y="2315" font-size="40">CHI HL</text></g>
<g id="n-shou-wc" class="nd"><circle cx="2200" cy="2410" r="6" class="pg"/><text class="l" x="2208" y="2405" font-size="45">SHOU WC</text></g>
<g id="n-hou-l" class="nd"><circle cx="2345" cy="2395" r="6" class="po"/><text class="l" x="2359" y="2388" font-size="32">HOU L</text></g>
<g id="n-chong-hy" class="nd"><circle cx="2373" cy="2459" r="68" class="po"/><circle cx="2373" cy="2465" r="45" class="pyg"/><circle cx="2373" cy="2470" r="26" class="pgl"/><text class="l" x="2375" y="2462" font-size="60">CHONG HY</text></g>
<g id="n-yung-p" class="nd"><circle cx="2100" cy="2478" r="5" class="pg"/><text class="l" x="2105" y="2468" font-size="25">YUNG P</text></g>
<g id="n-lu-ws" class="nd"><circle cx="1469" cy="2241" r="43" class="po"/><circle cx="1469" cy="2241" r="30" class="py"/><circle cx="1469" cy="2241" r="16" class="pg"/><text class="l" x="1477" y="2228" font-size="54">LU WS</text></g>
<g id="n-peng-y" class="nd"><circle cx="1310" cy="2240" r="5" class="pg"/><text class="l" x="1292" y="2234" font-size="25">PENG Y</text></g>
<g id="n-xue-f" class="nd"><circle cx="1665" cy="2275" r="8" class="po"/><text class="l" x="1667" y="2266" font-size="34">XUE F</text></g>
<g id="n-shen-gq" class="nd"><circle cx="1832" cy="2272" r="5" class="po"/><text class="l" x="1831" y="2266" font-size="26">SHEN GQ</text></g>
<g id="n-rowlinson-s" class="nd"><circle cx="1364" cy="2357" r="5" class="pg"/><text class="l" x="1366" y="2352" font-size="26">ROWLINSON S</text></g>
<g id="n-chen-k" class="nd"><circle cx="1469" cy="2405" r="12" class="po"/><text class="l" x="1471" y="2391" font-size="40">CHEN K</text></g>
<g id="n-niu-yh" class="nd"><circle cx="1282" cy="2437" r="5" class="py"/><text class="l" x="1281" y="2431" font-size="25">NIU YH</text></g>
<g id="n-zhang-xl" class="nd"><circle cx="1364" cy="2549" r="4" class="py"/><text class="l" x="1364" y="2543" font-size="25">ZHANG XL</text></g>
<g id="n-hsieh-sh" class="nd"><circle cx="1828" cy="2496" r="10" class="pg"/><text class="l" x="1835" y="2482" font-size="50">HSIEH SH</text></g>
<g id="n-mom-m" class="nd"><circle cx="1662" cy="2545" r="5" class="pg"/><text class="l" x="1660" y="2541" font-size="25">MOM M</text></g>
<g id="n-guo-j" class="nd"><circle cx="1971" cy="2556" r="5" class="pg"/><text class="l" x="1974" y="2545" font-size="27">GUO J</text></g>
<g id="n-wang-y" class="nd"><circle cx="2090" cy="2552" r="5" class="pg"/><text class="l" x="2079" y="2541" font-size="25">WANG Y</text></g>
<g id="n-truijens-m" class="nd"><circle cx="2115" cy="2548" r="8" class="pg"/><text class="l" x="2253" y="2547" font-size="41">TRUIJENS M</text></g>
<g id="n-kang-sc" class="nd"><circle cx="1900" cy="2600" r="6" class="pg"/><text class="l" x="1896" y="2602" font-size="37">KANG SC</text></g>
<g id="n-li-j" class="nd"><circle cx="2024" cy="2597" r="6" class="pg"/><text class="l" x="2028" y="2586" font-size="27">LI J</text></g>
<g id="n-tsai-mh" class="nd"><circle cx="1742" cy="2665" r="12" class="pg"/><text class="l" x="1746" y="2649" font-size="38">TSAI MH</text></g>
<g id="n-jiao-y" class="nd"><circle cx="1967" cy="2694" r="8" class="pg"/><text class="l" x="1968" y="2684" font-size="40">JIAO Y</text></g>
<g id="n-luo-hb" class="nd"><circle cx="2100" cy="2698" r="5" class="pg"/><text class="l" x="2106" y="2705" font-size="35">LUO HB</text></g>
<g id="n-zhou-y" class="nd"><circle cx="2263" cy="2680" r="5" class="pg"/><text class="l" x="2260" y="2672" font-size="26">ZHOU Y</text></g>
<g id="n-zhang-sh" class="nd"><circle cx="1852" cy="2815" r="5" class="pg"/><text class="l" x="1849" y="2807" font-size="26">ZHANG SH</text></g>
<g id="n-yang-bm" class="nd"><circle cx="2005" cy="2857" r="5" class="pg"/><text class="l" x="2010" y="2848" font-size="26">YANG BM</text></g>
<g id="n-wang-yh" class="nd"><circle cx="1909" cy="2922" r="8" class="py"/><text class="l" x="1912" y="2914" font-size="41">WANG YH</text></g>
<g id="n-xu-x" class="nd"><circle cx="2191" cy="2878" r="5" class="pg"/><text class="l" x="2195" y="2874" font-size="26">XU X</text></g>
<g id="n-ding-ly" class="nd"><circle cx="2345" cy="2850" r="10" fill="#E6F04A"/><text class="l" x="2345" y="2837" font-size="40">DING LY</text></g>
<g id="n-lopez-r" class="nd"><circle cx="2547" cy="2458" r="6" class="pyg"/><text class="l" x="2550" y="2404" font-size="26">LOPEZ R</text></g>
<g id="n-preece-c" class="nd"><circle cx="2513" cy="2582" r="5" class="pg"/><text class="l" x="2541" y="2567" font-size="26">PREECE C</text></g>
<g id="n-rogers-j" class="nd"><circle cx="2424" cy="2642" r="5" class="pg"/><text class="l" x="2431" y="2636" font-size="26">ROGERS J</text></g>
<g id="n-goulding-js" class="nd"><circle cx="2330" cy="2010" r="4" class="pg"/><text class="l" x="2276" y="1990" font-size="26">GOULDING JS</text></g>
<g id="n-love-ped" class="nd"><circle cx="2410" cy="2046" r="48" class="po"/><circle cx="2410" cy="2046" r="34" class="py"/><circle cx="2410" cy="2046" r="18" class="pyg"/><circle cx="2410" cy="2046" r="48" class="pk"/><text class="l" x="2410" y="2043" font-size="54">LOVE PED</text></g>
<g id="n-matthews-j" class="nd"><circle cx="2368" cy="1904" r="14" class="po"/><text class="l" x="2374" y="1891" font-size="39">MATTHEWS J</text></g>
<g id="n-carey-b" class="nd"><circle cx="2474" cy="1828" r="5" class="pyg"/><text class="l" x="2476" y="1818" font-size="27">CAREY B</text></g>
<g id="n-zhou-j" class="nd"><circle cx="2501" cy="1653" r="4" class="pyg"/><text class="l" x="2505" y="1647" font-size="27">ZHOU J</text></g>
<g id="n-sing-cp" class="nd"><circle cx="2490" cy="1955" r="6" class="pyg"/><text class="l" x="2526" y="1951" font-size="33">SING CP</text></g>
<g id="n-edwards-dj" class="nd"><circle cx="2750" cy="1946" r="20" class="py"/><circle cx="2750" cy="1946" r="20" class="pk"/><text class="l" x="2744" y="1934" font-size="41">EDWARDS DJ</text></g>
<g id="n-issa-rra" class="nd"><circle cx="2614" cy="2188" r="58" class="po"/><circle cx="2614" cy="2192" r="42" class="pyg"/><circle cx="2614" cy="2195" r="26" class="pg"/><text class="l" x="2615" y="2187" font-size="63">ISSA RRA</text></g>
<g id="n-mccuen-tl" class="nd"><circle cx="2753" cy="2116" r="6" class="po"/><text class="l" x="2752" y="2108" font-size="23">MCCUEN TL</text></g>
<g id="n-wu-w" class="nd"><circle cx="2876" cy="2141" r="6" class="po"/><text class="l" x="2881" y="2134" font-size="31">WU W</text></g>
<g id="n-mayo-g" class="nd"><circle cx="2737" cy="2233" r="8" class="po"/><text class="l" x="2715" y="2271" font-size="23">MAYO G</text></g>
<g id="n-smith-dk" class="nd"><circle cx="2826" cy="2266" r="5" class="po"/><text class="l" x="2828" y="2261" font-size="25">SMITH DK</text></g>
<g id="n-zhang-l" class="nd"><circle cx="2697" cy="2360" r="4" class="pg"/><text class="l" x="2697" y="2354" font-size="25">ZHANG L</text></g>
<g id="n-parn-ea" class="nd"><circle cx="2978" cy="1991" r="27" class="po"/><circle cx="2978" cy="1991" r="14" fill="#FFC840"/><text class="l" x="2982" y="1971" font-size="45">PARN EA</text></g>
<g id="n-li-h" class="nd"><circle cx="3133" cy="2036" r="76" class="po"/><circle cx="3133" cy="2050" r="45" class="py"/><circle cx="3133" cy="2055" r="28" class="pyg"/><circle cx="3133" cy="2058" r="14" class="pg"/><text class="l" x="3135" y="2036" font-size="62">LI H</text></g>
<g id="n-skitmore-m" class="nd"><circle cx="3192" cy="1885" r="6" class="pg"/><text class="l" x="3200" y="1871" font-size="27">SKITMORE M</text></g>
<g id="n-cao-dp" class="nd"><circle cx="3306" cy="1921" r="8" class="py"/><text class="l" x="3310" y="1912" font-size="33">CAO DP</text></g>
<g id="n-wang-gb" class="nd"><circle cx="3452" cy="1831" r="12" class="py"/><text class="l" x="3458" y="1820" font-size="37">WANG GB</text></g>
<g id="n-huang-t" class="nd"><circle cx="3306" cy="2028" r="8" class="pg"/><text class="l" x="3306" y="2021" font-size="33">HUANG T</text></g>
<g id="n-zhang-jx" class="nd"><circle cx="3289" cy="2133" r="5" class="pyg"/><text class="l" x="3290" y="2126" font-size="26">ZHANG JX</text></g>
<g id="n-papadonikolaki-e" class="nd"><circle cx="3200" cy="2191" r="8" class="po"/><text class="l" x="3203" y="2180" font-size="40">PAPADONIKOLAKI E</text></g>
<g id="n-wamelink-h" class="nd"><circle cx="3237" cy="2332" r="5" class="py"/><text class="l" x="3239" y="2352" font-size="26">WAMELINK H</text></g>
<g id="n-mccuen-t" class="nd"><circle cx="3552" cy="2154" r="5" class="pyg"/><text class="l" x="3560" y="2145" font-size="25">MCCUEN T</text></g>
<g id="n-chileshe-n" class="nd"><circle cx="3624" cy="2262" r="10" class="pyg"/><text class="l" x="3643" y="2232" font-size="32">CHILESHE N</text></g>
<g id="n-hosseini-mr" class="nd"><circle cx="3446" cy="2293" r="40" class="po"/><text class="l" x="3450" y="2277" font-size="48">HOSSEINI MR</text></g>
<g id="n-arashpour-m" class="nd"><circle cx="3596" cy="2392" r="6" class="po"/><text class="l" x="3603" y="2386" font-size="35">ARASHPOUR M</text></g>
<g id="n-martek-i" class="nd"><circle cx="3490" cy="2466" r="6" class="po"/><text class="l" x="3492" y="2459" font-size="34">MARTEK I</text></g>
<g id="n-akbarnezhad-a" class="nd"><circle cx="3630" cy="2543" r="4" class="po"/><text class="l" x="3633" y="2539" font-size="26">AKBARNEZHAD A</text></g>
<g id="n-azhar-s" class="nd"><circle cx="2998" cy="1638" r="10" class="pg"/><text class="l" x="2998" y="1627" font-size="37">AZHAR S</text></g>
<g id="n-aziz-z" class="nd"><circle cx="2876" cy="1672" r="4" class="py"/><text class="l" x="2872" y="1663" font-size="23">AZIZ Z</text></g>
<g id="n-riaz-z" class="nd"><circle cx="2876" cy="1783" r="8" class="pg"/><text class="l" x="2890" y="1770" font-size="34">RIAZ Z</text></g>
<g id="n-kiani-ak" class="nd"><circle cx="3056" cy="1754" r="5" class="pg"/><text class="l" x="3058" y="1746" font-size="24">KIANI AK</text></g>
<g id="n-arslan-m" class="nd"><circle cx="2953" cy="1834" r="6" class="py"/><text class="l" x="2953" y="1824" font-size="37">ARSLAN M</text></g>
<g id="n-raahemifar-k" class="nd"><circle cx="3107" cy="1412" r="5" class="py"/><text class="l" x="3107" y="1438" font-size="26">RAAHEMIFAR K</text></g>
<g id="n-naismith-n" class="nd"><circle cx="3240" cy="1388" r="6" class="py"/><text class="l" x="3244" y="1377" font-size="28">NAISMITH N</text></g>
<g id="n-tookey-j" class="nd"><circle cx="3082" cy="1278" r="12" fill="#FFC890"/><text class="l" x="3092" y="1313" font-size="37">TOOKEY J</text></g>
<g id="n-ghaffarianhoseini-a" class="nd"><circle cx="3207" cy="1270" r="14" fill="#FFAA30"/><text class="l" x="3209" y="1256" font-size="37">GHAFFARIANHOSEINI A</text></g>
</svg>
